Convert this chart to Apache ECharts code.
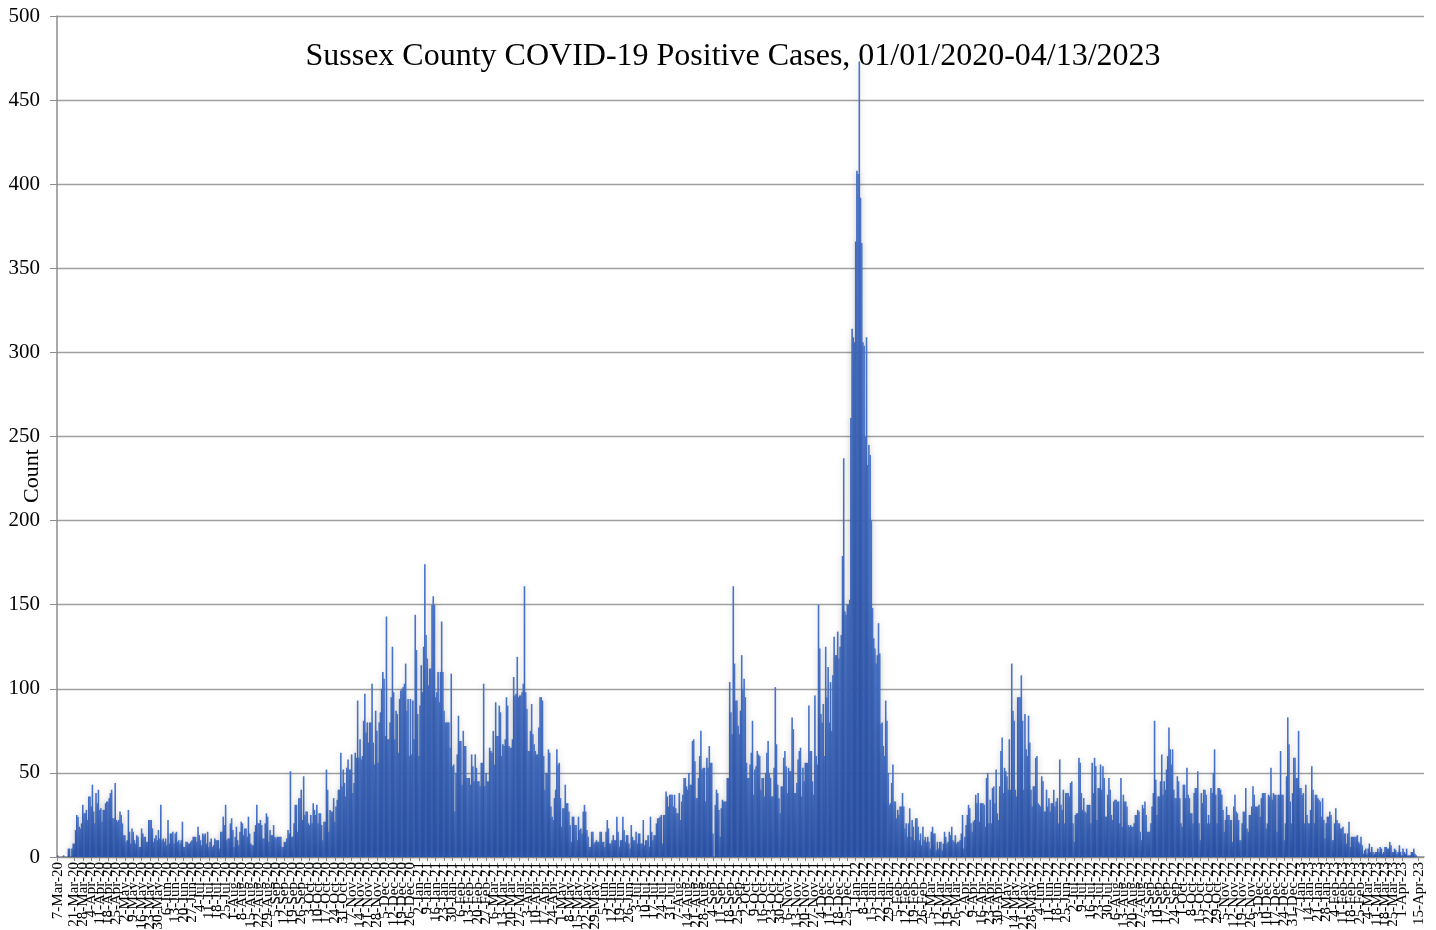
<!DOCTYPE html>
<html>
<head>
<meta charset="utf-8">
<title>Sussex County COVID-19 Positive Cases</title>
<script src="https://cdn.jsdelivr.net/npm/echarts@6/dist/echarts.min.js"></script>
<style>
html,body{margin:0;padding:0;background:#fff;}
#chart{width:1436px;height:930px;}
</style>
</head>
<body>
<div id="chart"></div>
<script>
// Daily positive cases, starting 7-Mar-2020
const cases2020 = [
1,0,0,0,0,1,0,0,0,5,
5,0,5,8,8,16,25,24,18,17,
20,31,26,26,28,22,36,36,30,43,
27,20,38,32,40,28,29,21,28,28,
32,33,33,35,38,40,23,23,44,22,
21,22,27,25,20,13,13,9,10,28,
15,8,17,15,10,8,13,12,6,6,
17,14,12,12,9,9,22,22,22,17,
9,11,13,10,16,11,31,10,11,9,
11,7,22,8,14,14,15,8,14,15,
9,10,8,
10,21,6,6,9,9,8,
8,9,10,12,12,12,9,18,13,10,
7,14,13,14,8,15,6,9,11,6,
7,11,10,10,10,5,15,15,24,19,
31,10,11,11,20,23,16,6,12,18,
10,7,15,21,20,13,17,17,12,24,
14,8,7,7,15,19,31,20,20,22,
19,11,11,20,26,24,9,16,13,13,
19,12,11,12,12,12,12,6,6,9,
9,11,16,14,51,12,12,20,31,31,
15,35,35,40,22,48,25,27,27,20,19,
25,20,32,28,25,31,20,26,26,
19,10,21,21,52,40,15,28,27,27,
35,21,30,34,40,40,62,42,52,44,
36,53,58,52,52,61,38,44,62,59,
93,59,70,58,60,81,97,74,80,68,
80,80,103,68,55,87,75,56,80,86,
100,110,106,72,143,70,70,80,95,125,
98,70,87,85,62,94,99,100,101,103,
115,87,94,60,94,61,93,70,144,123
];
const cases2021 = [
85,60,90,114,98,125,174,132,118,102,
112,112,150,155,150,95,98,110,92,110,
140,110,87,80,80,80,80,65,109,54,
55,27,50,61,84,69,69,43,75,66,
66,47,47,47,43,61,54,45,61,53,
45,45,42,56,56,103,42,50,45,45,
65,63,62,75,55,92,72,72,90,86,
60,67,66,70,95,90,66,65,65,70,
107,96,97,119,95,96,96,98,103,161,
98,88,63,63,75,91,73,67,63,61,
61,77,95,95,93,60,40,50,50,64,
62,30,24,22,35,40,64,55,56,35,
18,29,29,43,32,32,27,19,9,24,
24,19,19,10,24,16,17,14,27,31,
27,16,12,6,6,15,15,8,9,10,
9,9,15,15,9,9,6,15,22,17,
8,8,10,13,10,10,24,15,6,10,
10,24,16,9,13,13,8,5,19,12,
10,10,15,8,14,14,8,8,22,7,
10,10,13,6,24,15,10,13,13,20,
23,23,24,25,8,25,25,39,36,30,
37,37,37,30,37,29,26,26,38,22,
33,37,47,47,42,40,50,43,43,69,
70,57,35,35,47,60,75,52,53,53,
33,59,53,66,56,56,14,0,31,40,
38,28,12,29,34,33,33,33,47,47,
104,86,73,161,115,93,93,78,73,87,
120,100,106,95,56,47,47,55,62,81,
37,52,54,63,61,60,40,47,47,36,
50,62,69,50,47,36,36,53,101,67,
43,35,26,42,42,59,63,54,38,53,
51,51,83,76,38,38,44,58,63,65,
36,53,45,56,56,56,90,63,63,45,
37,96,60,55,150,124,85,80,91,60,
125,95,113,80,104,75,108,131,120,120,
134,118,125,132,179,237,146,144,150,150,
153,261,314,309,306
];
const cases2022 = [
366,408,406,473,392,
365,306,304,250,309,233,245,239,200,148,
130,124,115,120,139,121,79,80,66,60,
93,81,50,31,32,44,55,33,33,23,
28,25,30,30,38,30,17,20,12,20,
29,12,22,18,10,23,23,18,10,14,
7,18,10,12,9,12,9,5,15,18,
14,14,4,9,5,9,9,4,8,15,
12,8,9,15,13,18,10,9,13,8,
9,9,10,14,25,5,12,19,25,31,
29,20,15,21,22,37,32,38,21,32,
32,32,31,18,47,50,20,34,20,41,
42,32,52,26,22,42,63,71,38,53,
51,48,40,70,40,115,87,81,40,36,
95,95,95,108,81,40,85,64,60,84,
68,40,30,42,42,59,60,32,31,30,
48,45,27,27,40,30,35,27,32,32,
40,30,33,35,20,58,31,28,40,20,
38,38,38,36,44,45,20,9,25,26,
26,59,56,38,28,35,27,26,31,31,
31,20,56,38,59,54,22,41,41,55,
40,54,47,24,24,37,47,40,25,22,
33,34,34,33,33,20,47,18,37,33,
33,30,19,18,19,18,18,20,25,25,
28,27,15,10,31,29,33,25,15,15,
15,20,30,38,81,46,25,36,36,45,
61,37,45,40,52,60,77,64,55,64,
40,35,35,48,45,35,20,18,43,43,
35,53,37,35,26,26,20,38,41,41,
51,20,10,38,32,40,40,37,20,25,
20,41,38,50,64,37,20,41,41,40,
37,28,15,22,30,25,25,22,22,9,
30,37,27,26,22,10,10,20,27,27,
41,17,15,25,25,30,42,37,30,30,
30,31,24,35,38,38,38,17,20,37,
36,53,34,38,37,37,15,37,37,63,
37,37,10,20,48,83,67,33,20,38
];
const cases2023 = [
59,59,47,47,75,41,41,37,38,20,
43,25,20,20,28,54,40,20,37,37,
35,34,33,24,35,22,11,20,24,24,
27,25,10,10,20,29,22,20,20,17,
17,18,14,14,8,14,21,6,12,12,
12,12,12,13,9,8,12,7,2,4,
5,2,5,8,3,6,3,2,3,3,
5,3,6,5,2,3,6,6,5,5,
9,7,3,3,5,4,2,3,7,3,
1,5,3,2,5,1,1,1,3,3,
5,2,1
];

const titleText = 'Sussex County COVID-19 Positive Cases, 01/01/2020-04/13/2023';
const yAxisName = 'Count';
const monthNames = ['Jan','Feb','Mar','Apr','May','Jun','Jul','Aug','Sep','Oct','Nov','Dec'];
const firstDay = [2020, 2, 7];      // 7-Mar-2020
const categoryCount = 1139;         // 7-Mar-2020 .. 19-Apr-2023
const lastLabelIndex = 1134;        // 15-Apr-2023
const labelStep = 7;                // weekly tick labels

const categories = [];
const t0 = Date.UTC(firstDay[0], firstDay[1], firstDay[2]);
for (let k = 0; k < categoryCount; k++) {
  const d = new Date(t0 + k * 86400000);
  categories.push(d.getUTCDate() + '-' + monthNames[d.getUTCMonth()] + '-' + String(d.getUTCFullYear()).slice(2));
}
const values = cases2020.concat(cases2021, cases2022, cases2023);
const weekly = function (idx) { return idx % labelStep === 0 && idx <= lastLabelIndex; };

const chart = echarts.init(document.getElementById('chart'), null, {renderer: 'canvas'});
const serif = '"Liberation Serif","Times New Roman",serif';
chart.setOption({
  animation: false,
  backgroundColor: '#ffffff',
  grid: {left: 57, right: 12, top: 16, bottom: 73, containLabel: false, outerBoundsMode: 'none'},
  graphic: [
    {type: 'text', x: 733, y: 57, z: 10,
     style: {text: titleText, font: '32px ' + serif, fill: '#000', textAlign: 'center', textVerticalAlign: 'middle'}},
    {type: 'text', x: 32, y: 476, rotation: Math.PI / 2, z: 10,
     style: {text: yAxisName, font: '22px ' + serif, fill: '#000', textAlign: 'center', textVerticalAlign: 'middle'}}
  ],
  xAxis: {
    type: 'category',
    data: categories,
    boundaryGap: true,
    axisLine: {show: true, lineStyle: {color: '#8c8c8c', width: 1.5}},
    axisTick: {show: true, interval: weekly, alignWithLabel: true, length: 4, lineStyle: {color: '#8c8c8c'}},
    axisLabel: {interval: weekly, rotate: 90, fontFamily: serif, fontSize: 15, color: '#000', margin: 5,
                showMinLabel: true, showMaxLabel: true, hideOverlap: false,
                formatter: function (v, idx) { return idx <= lastLabelIndex ? v : ''; }},
    splitLine: {show: false}
  },
  yAxis: {
    type: 'value',
    min: 0, max: 500, interval: 50,
    axisLine: {show: true, lineStyle: {color: '#8c8c8c', width: 1.5}},
    axisTick: {show: true, length: 7, lineStyle: {color: '#8c8c8c'}},
    axisLabel: {fontFamily: serif, fontSize: 21, color: '#000', margin: 17},
    splitLine: {show: true, lineStyle: {color: '#a0a0a0', width: 1.3}}
  },
  series: [{
    type: 'bar',
    data: values,
    barWidth: 1.6,
    itemStyle: {
      color: new echarts.graphic.LinearGradient(0, 0, 0, 1, [
        {offset: 0, color: '#4874cc'},
        {offset: 1, color: '#2b57b4'}
      ]),
      shadowColor: 'rgba(0,0,0,0.18)',
      shadowBlur: 6
    }
  }]
});
</script>
</body>
</html>
